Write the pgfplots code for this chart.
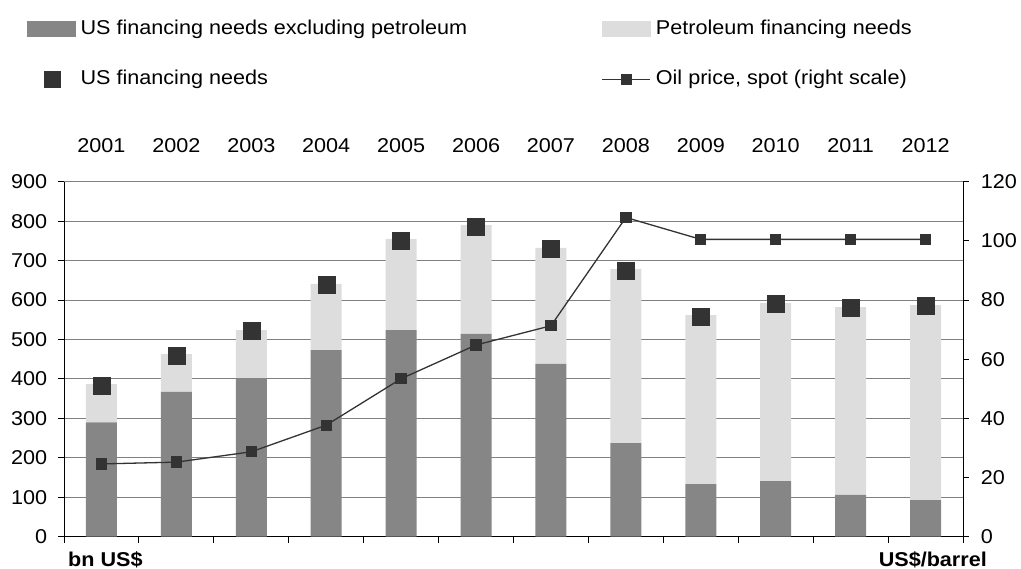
\documentclass[border=0pt]{standalone}
\usepackage{pgfplots}
\pgfplotsset{compat=1.18}
\usepackage{fontspec}
\setmainfont{Liberation Sans}[FakeStretch=1.08]
\setsansfont{Liberation Sans}[FakeStretch=1.08]
\definecolor{darkbar}{RGB}{134,134,134}
\definecolor{lightbar}{RGB}{221,221,221}
\definecolor{markc}{RGB}{51,51,51}
\definecolor{gridc}{RGB}{128,128,128}
\pgfplotsset{
  base/.style={
    scale only axis, width=899pt, height=355pt,
    xmin=-0.5, xmax=11.5, ymin=0, ymax=900,
    /pgf/number format/assume math mode=true,
  }
}
\begin{document}
\fontsize{20}{24}\selectfont
\begin{tikzpicture}
% bars
\begin{axis}[base,
  ybar stacked, bar width=31pt,
  axis lines*=left,
  axis line style={line width=0.9pt, black},
  xtick={-0.5,0.5,...,11.5}, xticklabels={},
  ytick={0,100,...,900},
  tick align=outside, major tick length=6pt,
  tick style={black, line width=0.9pt},
  ymajorgrids, grid style={gridc, line width=0.9pt},
  yticklabel style={xshift=-4pt},
]
\addplot[fill=darkbar, draw=none] coordinates {
(0,290) (1,367) (2,402) (3,473) (4,524) (5,514) (6,438) (7,237) (8,133) (9,141) (10,106) (11,93)};
\addplot[fill=lightbar, draw=none] coordinates {
(0,97) (1,96) (2,122) (3,168) (4,231) (5,276) (6,294) (7,442) (8,429) (9,451) (10,476) (11,494)};
\end{axis}
% totals
\begin{axis}[base, axis lines=none, ticks=none]
\addplot[only marks, mark=square*, mark size=8.5pt, color=markc] coordinates {
(0,384) (1,460) (2,521) (3,640) (4,750) (5,786) (6,729) (7,674) (8,558) (9,590) (10,580) (11,585)};
\end{axis}
% oil price
\begin{axis}[base, ymin=0, ymax=120,
  axis y line*=right, axis x line*=top,
  x axis line style={draw=none},
  y axis line style={line width=0.9pt, black},
  ytick={0,20,...,120},
  xtick={0,...,11},
  xticklabels={2001,2002,2003,2004,2005,2006,2007,2008,2009,2010,2011,2012},
  major x tick style={draw=none},
  ytick style={black, line width=0.9pt},
  tick align=outside, major tick length=6pt,
  yticklabel style={xshift=5pt},
  xticklabel style={yshift=16pt},
  clip=false,
  legend columns=2,
  legend cell align=left,
  legend style={draw=none, fill=none,
    at={(axis description cs:-0.0445,1.4675)}, anchor=north west,
    /tikz/column sep=0pt, row sep=29pt,
    font=\fontsize{20}{24}\selectfont},
]
\addlegendimage{legend image code/.code={\fill[darkbar] (0pt,-7.5pt) rectangle (48pt,7.5pt);}}
\addlegendentry{\makebox[522pt][l]{\hspace*{3pt}US financing needs excluding petroleum}}
\addlegendimage{legend image code/.code={\fill[lightbar] (0pt,-7.5pt) rectangle (48pt,7.5pt);}}
\addlegendentry{\hspace*{3pt}Petroleum financing needs}
\addlegendimage{legend image code/.code={\path[draw=none,fill=none] (0pt,0pt) -- (48pt,0pt);
  \fill[markc] (16.5pt,-8pt) rectangle (32.5pt,8pt);}}
\addlegendentry{\makebox[522pt][l]{\hspace*{3pt}US financing needs}}
\addplot[color=markc, line width=1.3pt, mark=square*, mark size=5pt,
  legend image code/.code={\draw[markc, line width=1.3pt] (0pt,0pt) -- (48pt,0pt);
  \fill[markc] (19pt,-5pt) rectangle (29pt,5pt);}] coordinates {
(0,24.6) (1,25.2) (2,28.7) (3,37.7) (4,53.4) (5,64.8) (6,71.3) (7,107.9) (8,100.5) (9,100.5) (10,100.5) (11,100.5)};
\addlegendentry{\hspace*{3pt}Oil price, spot (right scale)}
\node[anchor=base west, inner sep=0pt, font=\bfseries\fontsize{20}{24}\selectfont] at (axis description cs:0.00445,-0.0845) {bn US\$};
\node[anchor=base east, inner sep=0pt, font=\bfseries\fontsize{20}{24}\selectfont] at (axis description cs:1.0267,-0.0845) {US\$/barrel};
\end{axis}
\pgfresetboundingbox
\path[use as bounding box] (-64pt,-32.3pt) rectangle (957pt,536.7pt);
\end{tikzpicture}
\end{document}
